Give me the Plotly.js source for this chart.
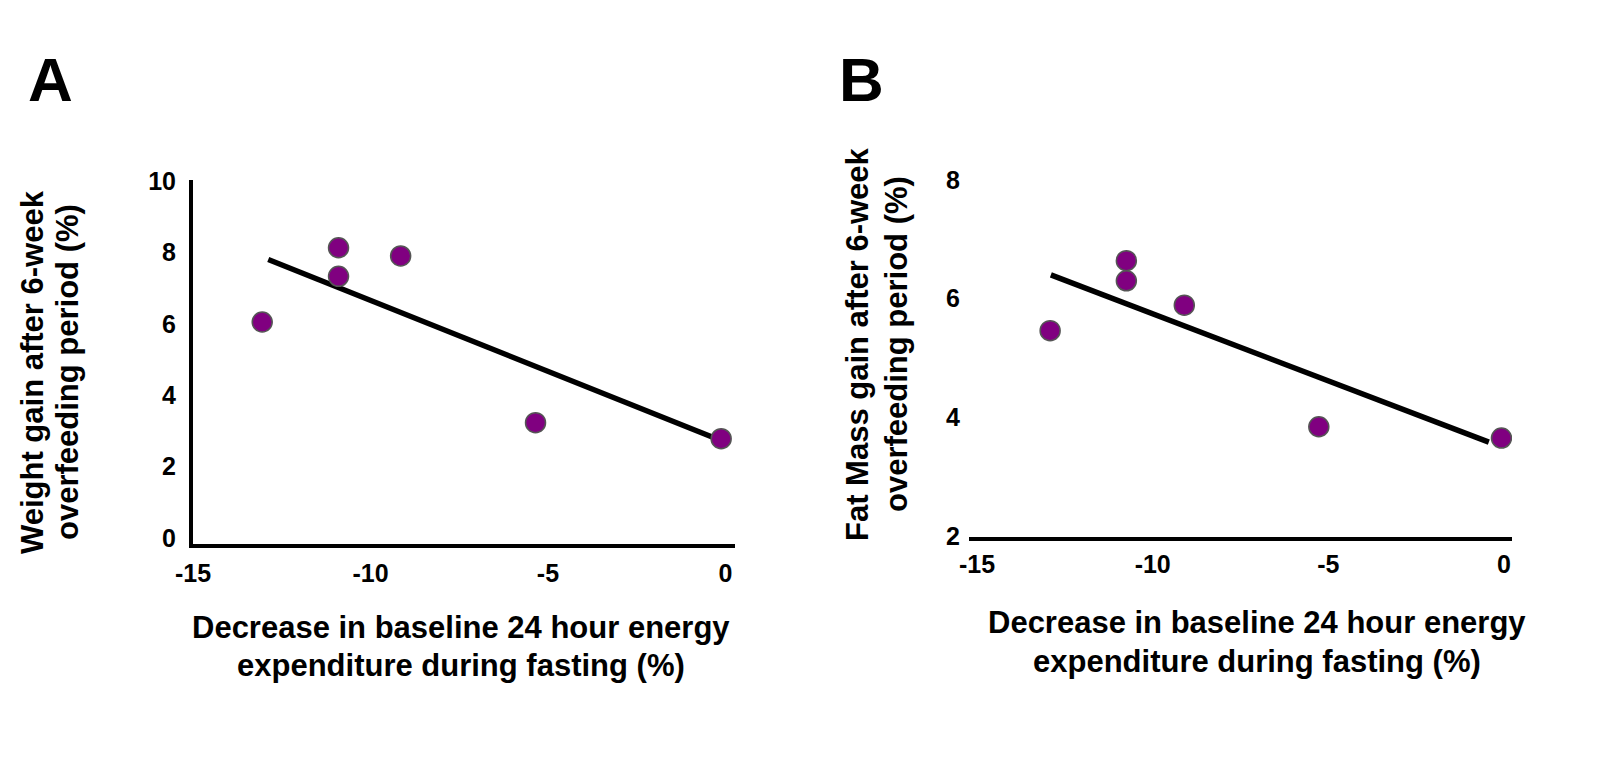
<!DOCTYPE html>
<html>
<head>
<meta charset="utf-8">
<script src="https://cdn.plot.ly/plotly-3.0.1.min.js"></script>
<style>html,body{margin:0;padding:0;background:#fff;}#chart{width:1600px;height:761px;}</style>
</head>
<body>
<div id="chart"></div>
<script>
// Panel A: weight gain vs decrease in 24h energy expenditure
const xA = [-13.05, -10.9, -10.9, -9.15, -5.35, -0.12];
const yA = [6.05, 8.13, 7.33, 7.9, 3.23, 2.78];
const fitXA = [-12.88, -0.25];
const fitYA = [7.8, 2.78];

// Panel B: fat mass gain vs decrease in 24h energy expenditure
const xB = [-12.92, -10.75, -10.75, -9.1, -5.27, -0.07];
const yB = [5.46, 6.64, 6.3, 5.89, 3.84, 3.65];
const fitXB = [-12.9, -0.43];
const fitYB = [6.4, 3.58];

const xTicks = [-15, -10, -5, 0];
const xTickText = ['-15', '-10', '-5', '0'];
const yTicksA = [0, 2, 4, 6, 8, 10];
const yTicksB = [2, 4, 6, 8];

const panelLabels = ['A', 'B'];
const xTitleLines = ['Decrease in baseline 24 hour energy', 'expenditure during fasting (%)'];
const yTitleALines = ['Weight gain after 6-week', 'overfeeding period (%)'];
const yTitleBLines = ['Fat Mass gain after 6-week', 'overfeeding period (%)'];

const FONT = 'Liberation Sans, Arial, Helvetica, sans-serif';
const markerStyle = {color: '#800080', size: 20, line: {color: '#555555', width: 1.5}};
const lineStyle = {color: '#000000', width: 5.5};

const traces = [
  {x: fitXA, y: fitYA, mode: 'lines', line: lineStyle, xaxis: 'x', yaxis: 'y', hoverinfo: 'skip'},
  {x: xA, y: yA, mode: 'markers', marker: markerStyle, xaxis: 'x', yaxis: 'y'},
  {x: fitXB, y: fitYB, mode: 'lines', line: lineStyle, xaxis: 'x2', yaxis: 'y2', hoverinfo: 'skip'},
  {x: xB, y: yB, mode: 'markers', marker: markerStyle, xaxis: 'x2', yaxis: 'y2'}
];

const tickFont = {family: FONT, size: 25, color: '#000', weight: 'bold'};
const baseAxis = {
  showgrid: false, zeroline: false, ticks: '', tickfont: tickFont,
  linecolor: '#000', linewidth: 4, fixedrange: true, ticklabelstandoff: 8
};

const W = 1600, H = 761;
const titleFont = {family: FONT, size: 31, color: '#000', weight: 'bold'};
function ann(text, px, py, angle, font) {
  return {text: text, x: px / W, y: (H - py) / H, xref: 'paper', yref: 'paper',
    xanchor: 'center', yanchor: 'middle', showarrow: false, textangle: angle || 0,
    font: font || titleFont};
}
const labelFont = {family: FONT, size: 62, color: '#000', weight: 'bold'};

const layout = {
  width: W, height: H,
  margin: {l: 0, r: 0, t: 0, b: 0},
  paper_bgcolor: '#fff', plot_bgcolor: '#fff',
  showlegend: false,
  font: {family: FONT, color: '#000'},
  xaxis: Object.assign({}, baseAxis, {
    domain: [193/W, 735/W], range: [-15.0, 0.27], anchor: 'y',
    tickvals: xTicks, ticktext: xTickText, showline: true, ticklabelstandoff: 4
  }),
  yaxis: Object.assign({}, baseAxis, {
    domain: [(H-544)/H, (H-180.3)/H], range: [-0.17, 10.02], anchor: 'x',
    tickvals: yTicksA, showline: true
  }),
  xaxis2: Object.assign({}, baseAxis, {
    domain: [969/W, 1512/W], range: [-15.23, 0.23], anchor: 'y2',
    tickvals: xTicks, ticktext: xTickText, showline: true, linewidth: 4.5, ticklabelstandoff: 2
  }),
  yaxis2: Object.assign({}, baseAxis, {
    domain: [(H-536.5)/H, (H-178.8)/H], range: [1.99, 8.02], anchor: 'x2',
    tickvals: yTicksB, showline: false
  }),
  annotations: [
    ann(panelLabels[0], 50, 80, 0, labelFont),
    ann(panelLabels[1], 862, 80, 0, labelFont),
    ann(yTitleALines[0], 32, 372, -90),
    ann(yTitleALines[1], 67, 372, -90),
    ann(yTitleBLines[0], 857, 344, -90),
    ann(yTitleBLines[1], 896, 344, -90),
    ann(xTitleLines[0], 461, 627, 0),
    ann(xTitleLines[1], 461, 665, 0),
    ann(xTitleLines[0], 1257, 622, 0),
    ann(xTitleLines[1], 1257, 661, 0)
  ]
};

Plotly.newPlot('chart', traces, layout, {displayModeBar: false, staticPlot: true});
</script>
</body>
</html>
